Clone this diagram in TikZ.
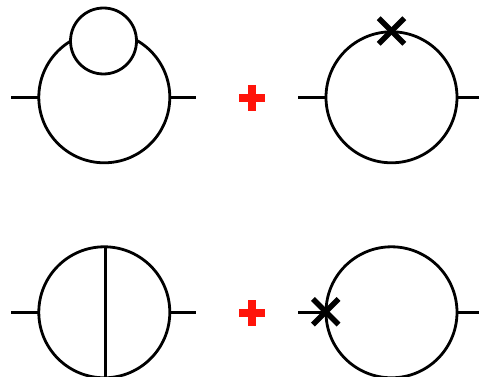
\documentclass[tikz,border=0pt]{standalone}
\usetikzlibrary{calc}
\definecolor{plusred}{RGB}{255,20,10}
\tikzset{
  x=1pt,y=-1pt,
  loopa/.style={circle,draw=black,line width=2.8pt,minimum size=131pt,inner sep=0pt,outer sep=0pt},
  loopb/.style={circle,draw=black,line width=2.8pt,fill=white,minimum size=66pt,inner sep=0pt,outer sep=0pt},
  prop/.style={draw=black,line width=2.8pt},
  crossmark/.style={draw=black,line width=5.5pt},
  plusmark/.style={draw=plusred,line width=8pt},
}
\begin{document}
\begin{tikzpicture}
\useasboundingbox (0,0) rectangle (479,377);
\clip (0,0) rectangle (479,377);
% top left
\node[loopa] (A) at (104.3,97.3) {};
\node[loopb] (As) at (103.5,41) {};
\coordinate (Al) at (11,97.3);
\coordinate (Ar) at (196,97.3);
\draw[prop] (Al) -- (A.west);
\draw[prop] (A.east) -- (Ar);
% top plus
\coordinate (P1) at (252,98);
\draw[plusmark] ($(P1)+(-13,0)$) -- ($(P1)+(13,0)$);
\draw[plusmark] ($(P1)+(0,-13)$) -- ($(P1)+(0,13)$);
% top right
\node[loopa] (B) at (391.5,97.3) {};
\coordinate (Bl) at (298,97.3);
\coordinate (Br) at (479,97.3);
\coordinate (Bx) at (391.5,31);
\draw[prop] (Bl) -- (B.west);
\draw[prop] (B.east) -- (Br);
\draw[crossmark] ($(Bx)+(-12.8,-12.8)$) -- ($(Bx)+(12.8,12.8)$);
\draw[crossmark] ($(Bx)+(-12.8,12.8)$) -- ($(Bx)+(12.8,-12.8)$);
% bottom left
\node[loopa] (C) at (104.3,312.3) {};
\coordinate (Cl) at (11,312.3);
\coordinate (Cr) at (196,312.3);
\coordinate (Cb) at (105.4,378);
\draw[prop] (Cl) -- (C.west);
\draw[prop] (C.east) -- (Cr);
\draw[prop] (C.north -| Cb) -- (Cb);
% bottom plus
\coordinate (P2) at (252,313);
\draw[plusmark] ($(P2)+(-13,0)$) -- ($(P2)+(13,0)$);
\draw[plusmark] ($(P2)+(0,-13)$) -- ($(P2)+(0,13)$);
% bottom right
\node[loopa] (D) at (391.5,312.3) {};
\coordinate (Dl) at (298,312.3);
\coordinate (Dr) at (479,312.3);
\coordinate (Dx) at (325.7,311.8);
\draw[prop] (Dl) -- (D.west);
\draw[prop] (D.east) -- (Dr);
\draw[crossmark] ($(Dx)+(-12.8,-12.8)$) -- ($(Dx)+(12.8,12.8)$);
\draw[crossmark] ($(Dx)+(-12.8,12.8)$) -- ($(Dx)+(12.8,-12.8)$);
\end{tikzpicture}
\end{document}
